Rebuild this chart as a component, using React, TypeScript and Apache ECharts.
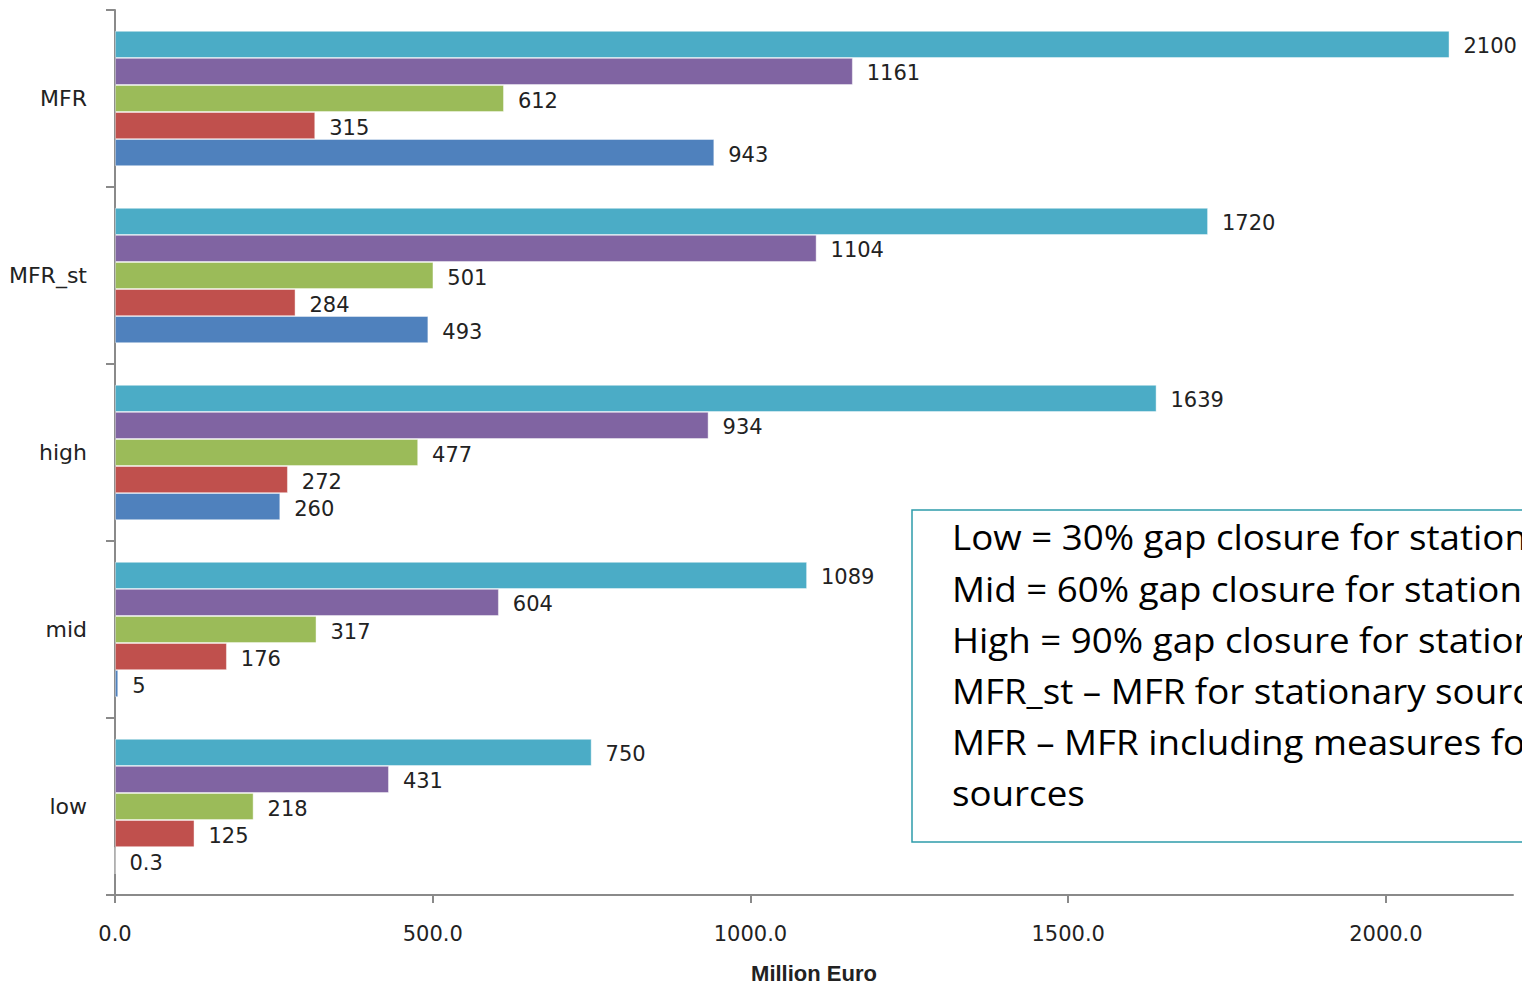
import React, { useEffect, useRef } from "react";
import * as echarts from "echarts";

// Scenario categories, listed from the bottom of the axis upwards
const categories = ["low", "mid", "high", "MFR_st", "MFR"];

// Five series per scenario, drawn top to bottom inside each group
const seriesTeal = [750, 1089, 1639, 1720, 2100];
const seriesPurple = [431, 604, 934, 1104, 1161];
const seriesGreen = [218, 317, 477, 501, 612];
const seriesRed = [125, 176, 272, 284, 315];
const seriesBlue = [0.3, 5, 260, 493, 943];

const xTicks = [0, 500, 1000, 1500, 2000];

const noteLines = [
  "Low = 30% gap closure for stationary sources",
  "Mid = 60% gap closure for stationary sources",
  "High = 90% gap closure for stationary sources",
  "MFR_st \u2013 MFR for stationary sources",
  "MFR \u2013 MFR including measures for mobile",
  "sources",
];

const LABEL_FONT = "'DejaVu Sans', Verdana, sans-serif";

export default function App() {
  const ref = useRef<HTMLDivElement>(null);

  useEffect(() => {
    document.body.style.margin = "0";
    if (!ref.current) return;
    const chart = echarts.init(ref.current, undefined, { renderer: "svg" });

    const mk = (name: string, data: number[], color: string) => ({
      name,
      type: "bar",
      data,
      barGap: "0%",
      barCategoryGap: "23.6%",
      itemStyle: {
        color,
        borderColor: "rgba(255,255,255,0.55)",
        borderWidth: 0.8,
      },
      label: {
        show: true,
        position: "right",
        distance: 14,
        offset: [0, 2],
        color: "#222",
        fontFamily: LABEL_FONT,
        fontSize: 21,
        formatter: (p: any) => String(p.value),
      },
    });

    chart.setOption({
      animation: false,
      backgroundColor: "#ffffff",
      grid: { left: 115, top: 10, width: 1398, height: 902, containLabel: false },
      xAxis: {
        type: "value",
        min: 0,
        max: 2200,
        interval: 500,
        name: "Million Euro",
        nameLocation: "middle",
        nameGap: 67,
        nameTextStyle: {
          fontFamily: "'Liberation Sans', Arial, sans-serif",
          fontWeight: "bold",
          fontSize: 22,
          color: "#222",
        },
        axisLine: { show: true, lineStyle: { color: "#8a8a8a", width: 2 } },
        axisTick: {
          show: true,
          length: 8,
          customValues: xTicks,
          lineStyle: { color: "#8a8a8a", width: 2 },
        },
        axisLabel: {
          customValues: xTicks,
          margin: 28,
          color: "#222",
          fontFamily: LABEL_FONT,
          fontSize: 21,
          formatter: (v: number) => v.toFixed(1),
        },
        splitLine: { show: false },
      },
      yAxis: {
        type: "category",
        data: categories,
        axisLine: { show: true, lineStyle: { color: "#8a8a8a", width: 2 } },
        axisTick: { show: true, length: 9, lineStyle: { color: "#8a8a8a", width: 2 } },
        axisLabel: {
          margin: 28,
          color: "#222",
          fontFamily: LABEL_FONT,
          fontSize: 22,
        },
        splitLine: { show: false },
      },
      series: [
        mk("Teal", seriesTeal, "#4BACC6"),
        mk("Purple", seriesPurple, "#8064A2"),
        mk("Green", seriesGreen, "#9BBB59"),
        mk("Red", seriesRed, "#C0504D"),
        mk("Blue", seriesBlue, "#4F81BD"),
      ],
      graphic: [
        {
          type: "rect",
          shape: { x: 912, y: 510, width: 700, height: 332 },
          style: { fill: "#ffffff", stroke: "#2E9CAA", lineWidth: 1.5 },
          z: 10,
        },
        ...noteLines.map((t, i) => ({
          type: "text",
          x: 952,
          y: 537 + i * 51.2,
          scaleX: 1.08,
          z: 11,
          style: {
            text: t,
            fill: "#000",
            font: "34px 'Open Sans', 'Noto Sans', sans-serif",
            textVerticalAlign: "middle",
          },
        })),
      ],
    });

    return () => chart.dispose();
  }, []);

  return <div ref={ref} style={{ width: 1522, height: 989 }} />;
}
